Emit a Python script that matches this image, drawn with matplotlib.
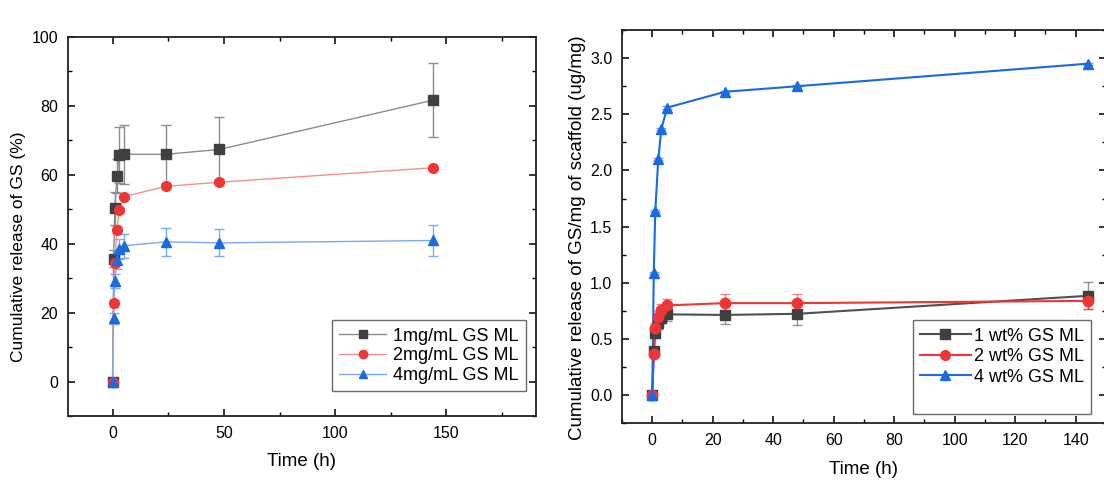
import matplotlib
matplotlib.use("Agg")
import matplotlib.pyplot as plt
from matplotlib.lines import Line2D
from matplotlib.ticker import MultipleLocator

plt.rcParams['font.family'] = ['Liberation Sans', 'DejaVu Sans']

# sampling times (h), shared by every series
time_h = [0, 0.5, 1, 2, 3, 5, 24, 48, 144]

# left panel: cumulative release of GS (%)
left_labels = ["1mg/mL GS ML", "2mg/mL GS ML", "4mg/mL GS ML"]
rel_1mg = [0, 35.6, 50.2, 59.6, 65.6, 65.9, 65.9, 67.3, 81.6]
err_1mg = [0, 2.5, 4.7, 5.0, 8.1, 8.5, 8.4, 9.4, 10.8]
rel_2mg = [0, 22.7, 34.3, 44.0, 49.6, 53.6, 56.6, 57.8, 62.0]
err_2mg = [0, 1.0, 1.2, 1.0, 0.8, 0.8, 0.8, 0.8, 0.6]
rel_4mg = [0, 18.3, 29.2, 35.2, 38.4, 39.4, 40.5, 40.2, 40.9]
err_4mg = [0, 1.5, 2.0, 2.5, 3.0, 3.5, 4.0, 3.9, 4.5]

# right panel: cumulative release of GS per mg of scaffold (ug/mg)
right_labels = ["1 wt% GS ML", "2 wt% GS ML", "4 wt% GS ML"]
rel_1wt = [0, 0.39, 0.55, 0.64, 0.69, 0.72, 0.715, 0.725, 0.885]
err_1wt = [0, 0.03, 0.04, 0.05, 0.05, 0.06, 0.085, 0.10, 0.12]
rel_2wt = [0, 0.37, 0.60, 0.70, 0.76, 0.80, 0.82, 0.82, 0.84]
err_2wt = [0, 0.03, 0.04, 0.05, 0.05, 0.06, 0.08, 0.08, 0.07]
rel_4wt = [0, 1.085, 1.64, 2.10, 2.37, 2.56, 2.70, 2.75, 2.95]
err_4wt = [0, 0.01, 0.01, 0.01, 0.01, 0.01, 0.01, 0.01, 0.01]

dark = '#404040'
red = '#f03535'
blue = '#1a6ae0'


def style_axes(ax):
  ax.tick_params(which='both', direction='in', top=True, right=True, labelsize=11.5, pad=7)
  ax.tick_params(which='major', length=5, width=1.1)
  ax.tick_params(which='minor', length=3, width=1.0)
  for sp in ax.spines.values():
    sp.set_linewidth(1.3)
    sp.set_color('#222222')


fig = plt.figure(figsize=(11.04, 4.83), dpi=100)

# ---- left panel
ax1 = fig.add_axes([0.0616, 0.1387, 0.4235, 0.7853])
series_l = [
  (rel_1mg, err_1mg, 's', dark, '#8c8c8c'),
  (rel_2mg, err_2mg, 'o', red, '#f59090'),
  (rel_4mg, err_4mg, '^', blue, '#7aaaf0'),
]
handles = []
for (vals, errs, mk, mcol, lcol), lab in zip(series_l, left_labels):
  ax1.errorbar(time_h, vals, yerr=errs, fmt='none', ecolor=lcol, elinewidth=1.0,
               capsize=3.5, capthick=1.0, zorder=2)
  ax1.plot(time_h, vals, '-', color=lcol, lw=1.0, zorder=3)
  ax1.plot(time_h, vals, mk, color=mcol, ms=7, mec=mcol, zorder=4)
  handles.append(Line2D([], [], color=lcol, lw=1.0, marker=mk, ms=6, mfc=mcol, mec=mcol))
ax1.set_xlim(-20, 190)
ax1.set_ylim(-10, 100)
ax1.xaxis.set_major_locator(MultipleLocator(50))
ax1.xaxis.set_minor_locator(MultipleLocator(25))
ax1.yaxis.set_major_locator(MultipleLocator(20))
ax1.yaxis.set_minor_locator(MultipleLocator(10))
style_axes(ax1)
ax1.set_xlabel("Time (h)", fontsize=13.5, labelpad=9)
ax1.set_ylabel("Cumulative release of GS (%)", fontsize=12.5)
ax1.yaxis.set_label_coords(-0.09, 0.445)
leg1 = ax1.legend(handles, left_labels, loc='lower right', bbox_to_anchor=(0.98, 0.065),
                  fontsize=13, frameon=True, fancybox=False, edgecolor='#444444',
                  handlelength=2.6, handletextpad=0.4, labelspacing=0.15,
                  borderpad=0.4, borderaxespad=0)
leg1.get_frame().set_linewidth(1.0)

# ---- right panel
ax2 = fig.add_axes([0.5634, 0.1234, 0.4384, 0.8145])
series_r = [
  (rel_1wt, err_1wt, 's', dark, '#505050'),
  (rel_2wt, err_2wt, 'o', red, red),
  (rel_4wt, err_4wt, '^', blue, blue),
]
handles = []
for (vals, errs, mk, mcol, lcol), lab in zip(series_r, right_labels):
  ax2.errorbar(time_h, vals, yerr=errs, fmt='none', ecolor=lcol, alpha=0.6,
               elinewidth=1.0, capsize=3.5, capthick=1.0, zorder=2)
  ax2.plot(time_h, vals, '-', color=lcol, lw=1.5, zorder=3)
  ax2.plot(time_h, vals, mk, color=mcol, ms=7.5, mec=mcol, zorder=4)
  handles.append(Line2D([], [], color=lcol, lw=1.5, marker=mk, ms=7, mfc=mcol, mec=mcol))
handles.append(Line2D([], [], alpha=0))
ax2.set_xlim(-10, 150)
ax2.set_ylim(-0.25, 3.25)
ax2.xaxis.set_major_locator(MultipleLocator(20))
ax2.xaxis.set_minor_locator(MultipleLocator(10))
ax2.yaxis.set_major_locator(MultipleLocator(0.5))
ax2.yaxis.set_minor_locator(MultipleLocator(0.25))
ax2.yaxis.set_major_formatter(matplotlib.ticker.FormatStrFormatter('%.1f'))
style_axes(ax2)
ax2.set_xlabel("Time (h)", fontsize=13.5, labelpad=9)
ax2.set_ylabel("Cumulative release of GS/mg of scaffold (ug/mg)", fontsize=13.5)
ax2.yaxis.set_label_coords(-0.074, 0.473)
leg2 = ax2.legend(handles, right_labels + [" "], loc='lower right', bbox_to_anchor=(0.97, 0.025),
                  fontsize=13, frameon=True, fancybox=False, edgecolor='#444444',
                  handlelength=2.8, handletextpad=0.2, labelspacing=0.2,
                  borderpad=0.4, borderaxespad=0)
leg2.get_frame().set_linewidth(1.0)

fig.savefig("out.png", dpi=100)
